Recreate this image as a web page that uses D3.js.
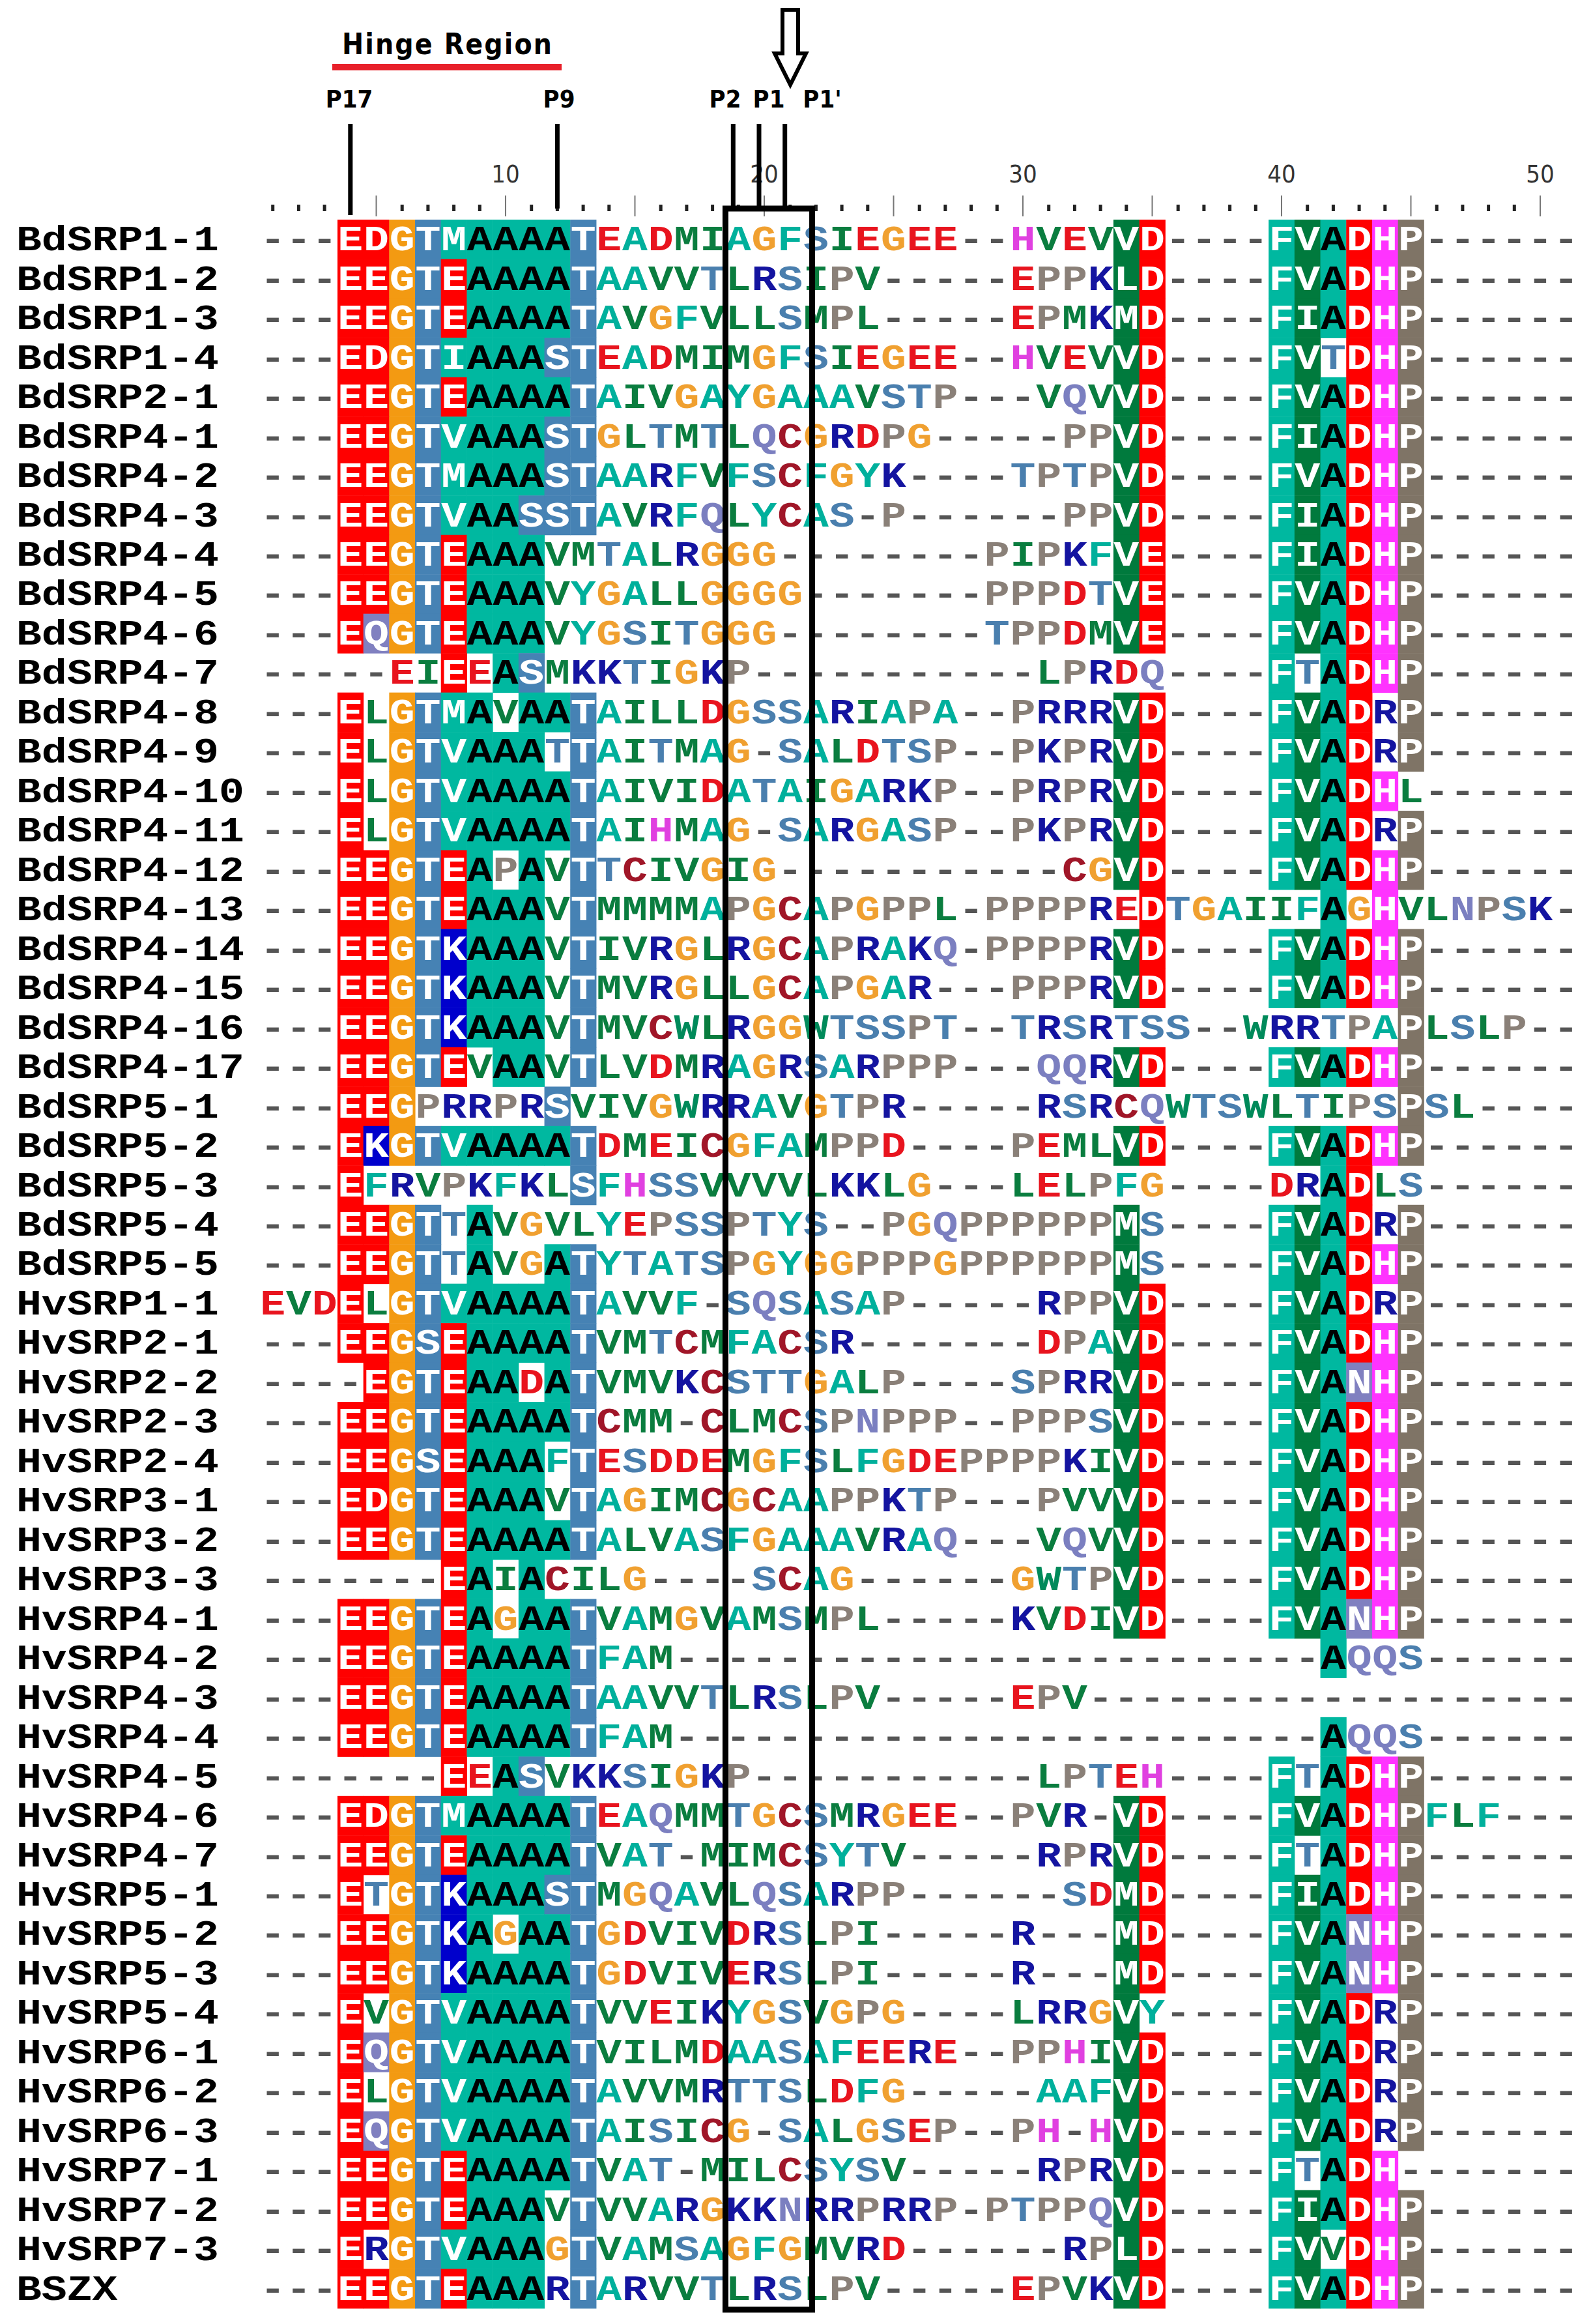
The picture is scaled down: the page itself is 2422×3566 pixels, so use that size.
<!DOCTYPE html>
<html>
<head>
<meta charset="utf-8">
<script src="https://cdn.jsdelivr.net/npm/d3@7"></script>
<style>
  body { margin: 0; background: #fff; }
</style>
</head>
<body>
<svg id="chart" width="2422" height="3566"></svg>
<script>
// sequence names, top to bottom
const names = ["BdSRP1-1","BdSRP1-2","BdSRP1-3","BdSRP1-4","BdSRP2-1","BdSRP4-1","BdSRP4-2","BdSRP4-3",
  "BdSRP4-4","BdSRP4-5","BdSRP4-6","BdSRP4-7","BdSRP4-8","BdSRP4-9","BdSRP4-10","BdSRP4-11","BdSRP4-12",
  "BdSRP4-13","BdSRP4-14","BdSRP4-15","BdSRP4-16","BdSRP4-17","BdSRP5-1","BdSRP5-2","BdSRP5-3","BdSRP5-4",
  "BdSRP5-5","HvSRP1-1","HvSRP2-1","HvSRP2-2","HvSRP2-3","HvSRP2-4","HvSRP3-1","HvSRP3-2","HvSRP3-3",
  "HvSRP4-1","HvSRP4-2","HvSRP4-3","HvSRP4-4","HvSRP4-5","HvSRP4-6","HvSRP4-7","HvSRP5-1","HvSRP5-2",
  "HvSRP5-3","HvSRP5-4","HvSRP6-1","HvSRP6-2","HvSRP6-3","HvSRP7-1","HvSRP7-2","HvSRP7-3","BSZX"];

// aligned residues, columns 1..51
const seqs = [
  "---EDGTMAAAATEADMIAGFSIEGEE--HVEVVD----FVADHP------",
  "---EEGTEAAAATAAVVTLRSIPV-----EPPKLD----FVADHP------",
  "---EEGTEAAAATAVGFVLLSMPL-----EPMKMD----FIADHP------",
  "---EDGTIAAASTEADMIMGFSIEGEE--HVEVVD----FVTDHP------",
  "---EEGTEAAAATAIVGAYGAAAVSTP---VQVVD----FVADHP------",
  "---EEGTVAAASTGLTMTLQCGRDPG-----PPVD----FIADHP------",
  "---EEGTMAAASTAARFVFSCFGYK----TPTPVD----FVADHP------",
  "---EEGTVAASSTAVRFQLYCAS-P------PPVD----FIADHP------",
  "---EEGTEAAAVMTALRGGG--------PIPKFVE----FIADHP------",
  "---EEGTEAAAVYGALLGGGG-------PPPDTVE----FVADHP------",
  "---EQGTEAAAVYGSITGGG--------TPPDMVE----FVADHP------",
  "-----EIEEASMKKTIGKP-----------LPRDQ----FTADHP------",
  "---ELGTMAVAATAILLDGSSARIAPA--PRRRVD----FVADRP------",
  "---ELGTVAAATTAITMAG-SALDTSP--PKPRVD----FVADRP------",
  "---ELGTVAAAATAIVIDATAIGARKP--PRPRVD----FVADHL------",
  "---ELGTVAAAATAIHMAG-SARGASP--PKPRVD----FVADRP------",
  "---EEGTEAPAVTTCIVGIG-----------CGVD----FVADHP------",
  "---EEGTEAAAVTMMMMAPGCAPGPPL-PPPPREDTGAIIFAGHVLNPSK-",
  "---EEGTKAAAVTIVRGLRGCAPRAKQ-PPPPRVD----FVADHP------",
  "---EEGTKAAAVTMVRGLLGCAPGAR---PPPRVD----FVADHP------",
  "---EEGTKAAAVTMVCWLRGGWTSSPT--TRSRTSS--WRRTPAPLSLP--",
  "---EEGTEVAAVTLVDMRAGRSARPPP---QQRVD----FVADHP------",
  "---EEGPRRPRSVIVGWRRAVGTPR-----RSRCQWTSWLTIPSPSL----",
  "---EKGTVAAAATDMEICGFAMPPD----PEMLVD----FVADHP------",
  "---EFRVPKFKLSFHSSVVVVLKKLG---LELPFG----DRADLS------",
  "---EEGTTAVGVLYEPSSPTYS--PGQPPPPPPMS----FVADRP------",
  "---EEGTTAVGATYTATSPGYGGPPPGPPPPPPMS----FVADHP------",
  "EVDELGTVAAAATAVVF-SQSASAP-----RPPVD----FVADRP------",
  "---EEGSEAAAATVMTCMFACSR-------DPAVD----FVADHP------",
  "----EGTEAADATVMVKCSTTGALP----SPRRVD----FVANHP------",
  "---EEGTEAAAATCMM-CLMCSPNPPP--PPPSVD----FVADHP------",
  "---EEGSEAAAFTESDDEMGFSLFGDEPPPPKIVD----FVADHP------",
  "---EDGTEAAAVTAGIMCGCAAPPKTP---PVVVD----FVADHP------",
  "---EEGTEAAAATALVASFGAAAVRAQ---VQVVD----FVADHP------",
  "-------EAIACILG----SCAG------GWTPVD----FVADHP------",
  "---EEGTEAGAATVAMGVAMSMPL-----KVDIVD----FVANHP------",
  "---EEGTEAAAATFAM-------------------------AQQS------",
  "---EEGTEAAAATAAVVTLRSLPV-----EPV-------------------",
  "---EEGTEAAAATFAM-------------------------AQQS------",
  "-------EEASVKKSIGKP-----------LPTEH----FTADHP------",
  "---EDGTMAAAATEAQMMTGCSMRGEE--PVR-VD----FVADHPFLF---",
  "---EEGTEAAAATVAT-MIMCSYTV-----RPRVD----FTADHP------",
  "---ETGTKAAASTMGQAVLQSARPP------SDMD----FIADHP------",
  "---EEGTKAGAATGDVIVDRSLPI-----R---MD----FVANHP------",
  "---EEGTKAAAATGDVIVERSLPI-----R---MD----FVANHP------",
  "---EVGTVAAAATVVEIKYGSVGPG----LRRGVY----FVADRP------",
  "---EQGTVAAAATVILMDAASAFEERE--PPHIVD----FVADRP------",
  "---ELGTVAAAATAVVMRTTSLDFG-----AAFVD----FVADRP------",
  "---EQGTVAAAATAISICG-SALGSEP--PH-HVD----FVADRP------",
  "---EEGTEAAAATVAT-MILCSYSV-----RPRVD----FTADH-------",
  "---EEGTEAAAVTVVARGKKNRRPRRP-PTPPQVD----FIADHP------",
  "---ERGTVAAAGTVAMSAGFGMVRD------RPLD----FVVDHP------",
  "---EEGTEAAARTARVVTLRSLPV-----EPVKVD----FVADHP------"
];

const nCols = 51;
const rulerTicks = [10, 20, 30, 40, 50];
const siteLabels = ["P17", "P9", "P2", "P1", "P1'"];
const siteCols = [4, 12, 19, 20, 21];

// residue text colours
const fg = {A:"#00b09c",E:"#e8141e",D:"#e8141e",G:"#f0a030",T:"#4a7fae",S:"#4a7fae",V:"#0a7d3f",I:"#0a7d3f",
  L:"#0a7d3f",M:"#0a7d3f",F:"#00b09c",Y:"#00b09c",W:"#008a5a",R:"#1414a0",K:"#1414a0",P:"#8a8078",
  H:"#e040e0",Q:"#7b7fc0",N:"#7b7fc0",C:"#a01628","-":"#555"};
// shading colours
const bg = {red:"#ff0000",orange:"#f39a12",steel:"#4682b4",teal:"#00b8a0",green:"#007a3d",
  blue:"#0000cc",slate:"#8080c0",magenta:"#ff33ff",brown:"#7f7466"};
// which residues get a shaded background in each conserved column
const shade = {
  4:{E:"red"}, 5:{E:"red",D:"red",Q:"slate",K:"blue"}, 6:{G:"orange"}, 7:{T:"steel",S:"steel"},
  8:{E:"red",K:"blue",M:"teal",V:"teal",I:"teal"}, 9:{A:"teal"}, 10:{A:"teal"},
  11:{A:"teal",S:"steel"}, 12:{A:"teal",S:"steel"}, 13:{T:"steel",S:"steel"},
  34:{V:"green",M:"green",L:"green",I:"green"}, 35:{D:"red",E:"red"},
  40:{F:"teal"}, 41:{V:"green",I:"green"}, 42:{A:"teal"}, 43:{D:"red",N:"slate"},
  44:{H:"magenta"}, 45:{P:"brown"}
};

const svg = d3.select("#chart");
const x = d3.scaleLinear().domain([1, nCols]).range([418.7, 418.7 + 50 * 39.7]);
const cw = 39.7;
const y = d3.scaleBand().domain(names).range([337, 337 + names.length * 60.47]);
const mono = "'Liberation Mono', 'DejaVu Sans Mono', monospace";
const cond = "'DejaVu Sans Condensed', 'Liberation Sans', sans-serif";

const cells = [];
seqs.forEach((s, r) => {
  s.padEnd(nCols, "-").split("").forEach((ch, i) => {
    const col = i + 1;
    const sh = shade[col] && shade[col][ch];
    cells.push({name: names[r], col, ch, sh});
  });
});

// shaded backgrounds
svg.append("g").selectAll("rect").data(cells.filter(d => d.sh)).join("rect")
  .attr("x", d => x(d.col) - cw / 2).attr("y", d => y(d.name))
  .attr("width", cw + 0.5).attr("height", y.bandwidth() + 0.5)
  .attr("fill", d => bg[d.sh]);

// residues
svg.append("g").selectAll("text").data(cells).join("text")
  .attr("transform", d => `translate(${x(d.col)},${y(d.name) + y.bandwidth() / 2 + 17}) scale(1.2,1)`)
  .attr("text-anchor", "middle")
  .attr("font-family", mono).attr("font-size", 54).attr("font-weight", "bold")
  .attr("fill", d => d.sh ? (d.ch === "A" ? "#000" : "#fff") : fg[d.ch])
  .text(d => d.ch);

// names
svg.append("g").selectAll("text").data(names).join("text")
  .attr("transform", d => `translate(25,${y(d) + y.bandwidth() / 2 + 17}) scale(1.2,1)`)
  .attr("font-family", mono).attr("font-size", 54).attr("font-weight", "bold")
  .attr("fill", "#000").text(d => d);

// ruler: dots and ticks
const cols = d3.range(1, nCols);
svg.append("g").selectAll("g").data(cols).join(g => {
  const e = g.append("g");
  e.filter(d => d % 5 === 0).append("line")
    .attr("x1", d => x(d)).attr("x2", d => x(d)).attr("y1", 300).attr("y2", 332)
    .attr("stroke", "#777").attr("stroke-width", 2);
  e.filter(d => d % 5 !== 0).append("rect")
    .attr("x", d => x(d) - 2.5).attr("y", 314).attr("width", 5).attr("height", 10).attr("fill", "#222");
  return e;
});
svg.append("g").selectAll("text").data(rulerTicks).join("text")
  .attr("x", d => x(d)).attr("y", 280).attr("text-anchor", "middle")
  .attr("font-family", cond).attr("font-size", 38).attr("fill", "#333").text(d => d);

// hinge region label
svg.append("text").attr("x", 525).attr("y", 83).attr("font-family", cond)
  .attr("font-size", 44).attr("font-weight", "bold").attr("textLength", 322).text("Hinge Region");
svg.append("line").attr("x1", 510).attr("x2", 862).attr("y1", 103).attr("y2", 103)
  .attr("stroke", "#e8202a").attr("stroke-width", 10);

// cleavage site labels and leader lines
const labelX = [536, 858, 1113, 1180, 1262];
svg.append("g").selectAll("text").data(siteLabels).join("text")
  .attr("x", (d, i) => labelX[i]).attr("y", 165).attr("text-anchor", "middle")
  .attr("font-family", cond).attr("font-size", 38).attr("font-weight", "bold").text(d => d);
svg.append("g").selectAll("line").data(siteCols).join("line")
  .attr("x1", d => x(d) - (d >= 19 ? 8 : 0)).attr("x2", d => x(d) - (d >= 19 ? 8 : 0))
  .attr("y1", 190).attr("y2", (d, i) => i === 0 ? 330 : 320)
  .attr("stroke", "#000").attr("stroke-width", 7);

// box around P2-P1'
svg.append("rect").attr("x", x(19) - cw / 2).attr("y", 320)
  .attr("width", 3 * cw + 14).attr("height", 3544 - 320)
  .attr("fill", "none").attr("stroke", "#000").attr("stroke-width", 9);

// hollow arrow at the cleavage site
const ax = 1213;
svg.append("path")
  .attr("d", `M${ax - 12},15 L${ax + 12},15 L${ax + 12},82 L${ax + 24},82 L${ax},130 L${ax - 24},82 L${ax - 12},82 Z`)
  .attr("fill", "#fff").attr("stroke", "#000").attr("stroke-width", 6);
</script>
</body>
</html>
